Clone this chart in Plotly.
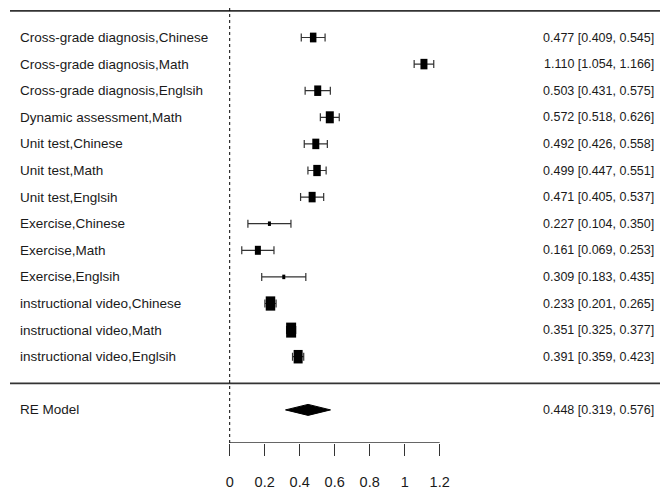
import plotly.graph_objects as go

labels = ["Cross-grade diagnosis,Chinese", "Cross-grade diagnosis,Math", "Cross-grade diagnosis,Englsih",
          "Dynamic assessment,Math", "Unit test,Chinese", "Unit test,Math", "Unit test,Englsih",
          "Exercise,Chinese", "Exercise,Math", "Exercise,Englsih",
          "instructional video,Chinese", "instructional video,Math", "instructional video,Englsih"]
est = [0.477, 1.110, 0.503, 0.572, 0.492, 0.499, 0.471, 0.227, 0.161, 0.309, 0.233, 0.351, 0.391]
lo = [0.409, 1.054, 0.431, 0.518, 0.426, 0.447, 0.405, 0.104, 0.069, 0.183, 0.201, 0.325, 0.359]
hi = [0.545, 1.166, 0.575, 0.626, 0.558, 0.551, 0.537, 0.350, 0.253, 0.435, 0.265, 0.377, 0.423]
weights = [6.5, 7, 7, 8, 7, 7.5, 7, 3, 6, 3, 9.5, 10, 9]  # relative box sizes

re_label = "RE Model"
re_est, re_lo, re_hi = 0.448, 0.319, 0.576

tick_vals = [0, 0.2, 0.4, 0.6, 0.8, 1.0, 1.2]
tick_text = ["0", "0.2", "0.4", "0.6", "0.8", "1", "1.2"]

W, H = 660, 492
FONT = "Liberation Sans, Arial, sans-serif"
INK = "#1a1a1a"

n = len(labels)
rows = [n - i for i in range(n)]  # 13 .. 1
re_row = -1

# axis scaling: 175 px per unit, 0 at x=229.7 px
px_per_x = 175.0
x0_px = 229.7
xr = [(0 - x0_px) / px_per_x, (W - x0_px) / px_per_x]
# y: row 13 at 37.5 px, 26.6 px per row, plot area 0..443 px
px_per_y = 26.6
plot_bottom = 443
y_top = n + 37.5 / px_per_y
y_bot = n - (plot_bottom - 37.5) / px_per_y

fig = go.Figure()

# CI lines with caps
fig.add_trace(go.Scatter(
    x=est, y=rows, mode="markers", marker=dict(size=0.1, color=INK),
    error_x=dict(type="data", symmetric=False,
                 array=[h - e for h, e in zip(hi, est)],
                 arrayminus=[e - l for e, l in zip(est, lo)],
                 color="#333333", thickness=1.2, width=4),
    showlegend=False, hoverinfo="skip"))

shapes = []
# boxes
for e, r, w in zip(est, rows, weights):
    hw = (w / 2) / px_per_x
    hh = (w * 1.5 / 2) / px_per_y
    shapes.append(dict(type="rect", xref="x", yref="y", x0=e - hw, x1=e + hw,
                       y0=r - hh, y1=r + hh, fillcolor="black", line=dict(width=0)))

# RE diamond
dh = 5.5 / px_per_y
fig.add_trace(go.Scatter(
    x=[re_lo, re_est, re_hi, re_est, re_lo], y=[re_row, re_row + dh, re_row, re_row - dh, re_row],
    mode="lines", fill="toself", fillcolor="black", line=dict(color="black", width=1),
    showlegend=False, hoverinfo="skip"))

# axis line
fig.add_trace(go.Scatter(
    x=[tick_vals[0], tick_vals[-1]], y=[y_bot, y_bot], mode="lines",
    line=dict(color="#333333", width=1.5), cliponaxis=False,
    showlegend=False, hoverinfo="skip"))

# top line and separator
for yy in [n + 1, 0]:
    shapes.append(dict(type="line", xref="paper", yref="y", x0=10 / W, x1=1, y0=yy, y1=yy,
                       line=dict(color="#333333", width=1.8)))
# dotted zero line
shapes.append(dict(type="line", xref="x", yref="y", x0=0, x1=0, y0=y_bot, y1=n + 1 + 3 / px_per_y,
                   line=dict(color="black", width=1, dash="dot")))

LAB_SIZE = 13.5
VAL_SIZE = 12.5
annotations = []
for lab, r, e, l, h in zip(labels, rows, est, lo, hi):
    annotations.append(dict(x=18 / W, xref="paper", y=r, yref="y", text=lab, showarrow=False,
                            xanchor="left", yanchor="middle", font=dict(family=FONT, size=LAB_SIZE, color=INK)))
    annotations.append(dict(x=656 / W, xref="paper", y=r, yref="y",
                            text=f"{e:.3f} [{l:.3f}, {h:.3f}]", showarrow=False,
                            xanchor="right", yanchor="middle", font=dict(family=FONT, size=VAL_SIZE, color=INK)))
annotations.append(dict(x=18 / W, xref="paper", y=re_row, yref="y", text=re_label, showarrow=False,
                        xanchor="left", yanchor="middle", font=dict(family=FONT, size=LAB_SIZE, color=INK)))
annotations.append(dict(x=656 / W, xref="paper", y=re_row, yref="y",
                        text=f"{re_est:.3f} [{re_lo:.3f}, {re_hi:.3f}]", showarrow=False,
                        xanchor="right", yanchor="middle", font=dict(family=FONT, size=VAL_SIZE, color=INK)))

fig.update_layout(
    width=W, height=H, margin=dict(l=0, r=0, t=0, b=H - plot_bottom),
    paper_bgcolor="white", plot_bgcolor="white",
    shapes=shapes, annotations=annotations, showlegend=False,
    xaxis=dict(range=xr, showgrid=False, zeroline=False, showline=False,
               tickmode="array", tickvals=tick_vals, ticktext=tick_text,
               ticks="outside", ticklen=12, tickwidth=1.2, tickcolor="#333333",
               ticklabelstandoff=14,
               tickfont=dict(family=FONT, size=14.5, color=INK), fixedrange=True),
    yaxis=dict(range=[y_bot, y_top], showgrid=False, zeroline=False, showline=False,
               showticklabels=False, ticks="", fixedrange=True),
)

fig.write_html("out.html", config={"displayModeBar": False},
               post_script="document.body.style.margin='0';document.body.style.overflow='hidden';")
